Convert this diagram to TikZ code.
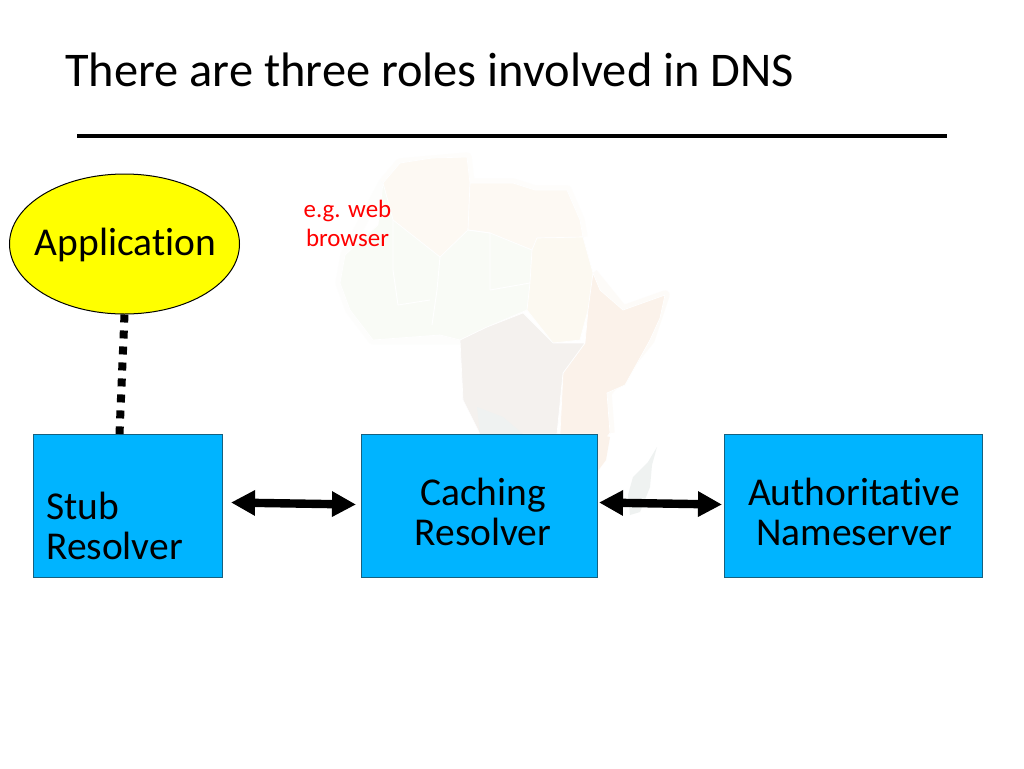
\documentclass[tikz,border=0pt]{standalone}
\usepackage{fontspec}
\setmainfont[Ligatures=NoCommon]{Carlito}
\usetikzlibrary{arrows.meta,calc,shapes.geometric}
\definecolor{boxblue}{HTML}{00B4FF}
\definecolor{boxedge}{HTML}{17607F}
\definecolor{appyellow}{HTML}{FFFF00}
\definecolor{notered}{HTML}{FF0000}
\definecolor{mapnorth}{HTML}{FDF9F3}
\definecolor{mapwest}{HTML}{F9FBF6}
\definecolor{mapsudan}{HTML}{FCF9F1}
\definecolor{mapcentral}{HTML}{F4F1EE}
\definecolor{mapeast}{HTML}{FBF2EA}
\definecolor{mapsouth}{HTML}{EFF2F1}
\tikzset{
  x=0.75pt,y=-0.75pt,
  bluebox/.style={draw=boxedge,line width=0.75pt,fill=boxblue,inner sep=0pt,anchor=north west},
  boxtext/.style={font=\fontsize{29.6}{30}\selectfont,align=center,inner sep=0pt,text=black,anchor=base},
  twoway/.style={line width=6.3pt,{Triangle[length=18pt,width=18pt]}-{Triangle[length=18pt,width=18pt]}},
  landpart/.style={line join=round,line width=0.5pt,draw=white},
  halo/.style={line join=round,line width=7pt,opacity=0.3},
  border/.style={draw=white,line width=0.7pt,line join=round},
}
\begin{document}
\begin{tikzpicture}
\useasboundingbox (0,0) rectangle (1024,768);
\fill[white] (0,0) rectangle (1024,768);
% faint map of Africa in the background
\begin{scope}
\draw[halo,mapnorth] (383,183) -- (400,163) -- (467,157) -- (470,183) -- (513,183) -- (535,190) -- (567,190) -- (580,220) -- (583,237);
\draw[halo,mapwest] (383,183) -- (345,255) -- (340,283) -- (350,310) -- (373,340) -- (460,340);
\draw[halo,mapeast] (593,273) -- (623,310) -- (665,295) -- (650,340) -- (607,393) -- (610,433);
\fill[landpart,fill=mapnorth] (400,163) -- (432,158) -- (467,157) -- (470,183) -- (468,230) -- (440,257) -- (393,220) -- (383,183) -- cycle;
\fill[landpart,fill=mapnorth] (470,183) -- (513,183) -- (535,190) -- (567,190) -- (580,220) -- (583,237) -- (537,238) -- (532,250) -- (490,233) -- (468,230) -- cycle;
\fill[landpart,fill=mapwest] (383,183) -- (393,220) -- (440,257) -- (468,230) -- (490,233) -- (532,250) -- (530,283) -- (527,310) -- (487,327) -- (460,340) -- (440,335) -- (373,340) -- (350,310) -- (340,283) -- (345,255) -- (378,225) -- cycle;
\fill[landpart,fill=mapsudan] (537,238) -- (583,237) -- (593,273) -- (588,310) -- (580,340) -- (553,343) -- (527,310) -- (530,283) -- (532,250) -- cycle;
\fill[landpart,fill=mapeast] (593,273) -- (600,290) -- (623,310) -- (665,295) -- (660,318) -- (650,340) -- (625,385) -- (607,393) -- (610,433) -- (597,450) -- (597,434) -- (560,434) -- (563,373) -- (585,343) -- (588,310) -- cycle;
\fill[landpart,fill=mapcentral] (460,340) -- (487,327) -- (523,313) -- (553,343) -- (585,343) -- (563,373) -- (557,434) -- (480,434) -- (463,400) -- cycle;
\fill[mapsouth] (477,407) -- (503,417) -- (523,434) -- (480,434) -- cycle;
\fill[mapeast] (597,434) -- (610,437) -- (606,460) -- (597,472) -- cycle;
\fill[mapsouth] (657,447) -- (652,465) -- (650,487) -- (640,512) -- (630,515) -- (628,495) -- (633,477) -- (648,462) -- cycle;
\draw[border] (393,220) -- (393,270) -- (398,305) -- (430,300);
\draw[border] (440,257) -- (437,290) -- (432,325);
\draw[border] (468,230) -- (490,233) -- (490,290);
\draw[border] (490,290) -- (530,283);
\end{scope}
% title
\node[anchor=base west,inner sep=0pt,font=\fontsize{36.3}{40}\selectfont] (title) at (65,86) {There are three roles involved in DNS};
\coordinate (ruleL) at (77,135.5);
\coordinate (ruleR) at (947,135.5);
\draw[line width=3pt] (ruleL) -- (ruleR);
% application
\node[draw=black,line width=0.75pt,fill=appyellow,shape=ellipse,inner sep=0pt,minimum width=172.5pt,minimum height=105pt] (app) at (124.5,244) {};
\node[boxtext] (apptext) at (125.5,255) {Application};
\node[anchor=base,inner sep=0pt,text=notered,align=center,font=\fontsize{18.7}{21.75}\selectfont] (note) at (347.5,246) {e.g. web\\browser};
% boxes
\node[bluebox,minimum width=141.75pt,minimum height=107.25pt] (stub) at (33,434) {};
\node[bluebox,minimum width=177pt,minimum height=107.25pt] (cache) at (361,434) {};
\node[bluebox,minimum width=193.5pt,minimum height=107.25pt] (auth) at (724,434) {};
\node[boxtext,anchor=base west,align=left] (stubtext) at (46,559) {Stub\\Resolver};
\node[boxtext] (cachetext) at (483,545) {Caching\\Resolver};
\node[boxtext] (authtext) at (854,545) {Authoritative\\Nameserver};
% connectors
\draw[line width=6pt,dash pattern=on 6pt off 6pt] (app.south) -- ([shift={(-8.5,0)}]stub.north);
\draw[twoway] ([shift={(8,-3.5)}]stub.east) -- ([shift={(-5,-1.5)}]cache.west);
\draw[twoway] ([shift={(1,-3.5)}]cache.east) -- ([shift={(-2,-1.5)}]auth.west);
\end{tikzpicture}
\end{document}
